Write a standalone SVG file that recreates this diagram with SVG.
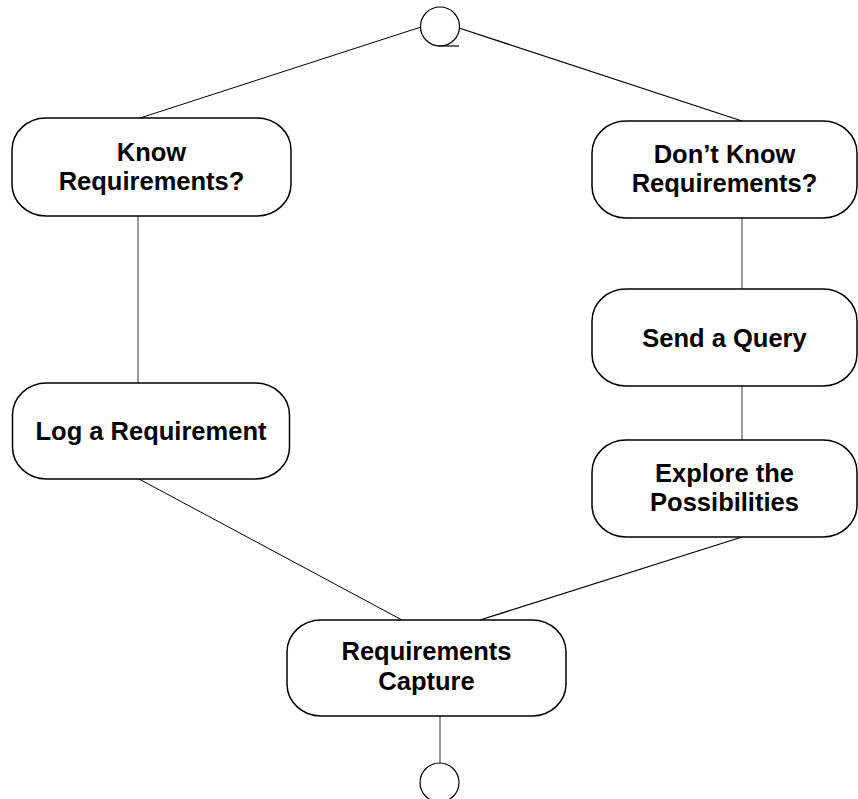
<svg xmlns="http://www.w3.org/2000/svg" width="858" height="799" viewBox="0 0 858 799">
<style>
.box{fill:#fff;stroke:#000;stroke-width:1.5}
.lbl{font-family:"Liberation Sans",Arial,sans-serif;font-weight:bold;font-size:25.5px;fill:#000;text-anchor:middle}
.con{stroke:#000;stroke-width:1;fill:none}
.conv{stroke:#333;stroke-width:1;fill:none}
.term{fill:#fff;stroke:#000;stroke-width:1.2}
</style>
<rect width="858" height="799" fill="#fff"/>
<g id="connectors">
<line class="con" x1="421" y1="27" x2="140" y2="118"/>
<line class="con" x1="459" y1="28" x2="742" y2="121" style="stroke-width:1.3"/>
<line class="conv" x1="138" y1="216" x2="138" y2="383"/>
<line class="conv" x1="742" y1="218" x2="742" y2="289"/>
<line class="conv" x1="742" y1="386" x2="742" y2="440"/>
<line class="con" x1="139" y1="479" x2="402" y2="620"/>
<line class="con" x1="742" y1="537" x2="480" y2="620" style="stroke-width:1.3"/>
<line class="conv" x1="440" y1="716" x2="440" y2="763"/>
</g>
<g id="start">
<circle class="term" cx="440" cy="26.5" r="19.5"/>
<line x1="438" y1="46" x2="459" y2="46" stroke="#000" stroke-width="1.2"/>
</g>
<g id="know">
<rect class="box" x="12" y="118" width="279" height="98" rx="34" ry="32"/>
<text class="lbl" x="151.5" y="161">Know</text>
<text class="lbl" x="151.5" y="190">Requirements?</text>
</g>
<g id="dontknow">
<rect class="box" x="592" y="121" width="265" height="97" rx="34" ry="32"/>
<text class="lbl" x="724.5" y="163">Don’t Know</text>
<text class="lbl" x="724.5" y="192">Requirements?</text>
</g>
<g id="query">
<rect class="box" x="592" y="289" width="265" height="97" rx="34" ry="32"/>
<text class="lbl" x="724.5" y="347">Send a Query</text>
</g>
<g id="explore">
<rect class="box" x="592" y="440" width="265" height="97" rx="34" ry="32"/>
<text class="lbl" x="724.5" y="482">Explore the</text>
<text class="lbl" x="724.5" y="511">Possibilities</text>
</g>
<g id="log">
<rect class="box" x="12.5" y="383" width="277" height="96" rx="34" ry="32"/>
<text class="lbl" x="151" y="440">Log a Requirement</text>
</g>
<g id="capture">
<rect class="box" x="287" y="620" width="279" height="96" rx="34" ry="32"/>
<text class="lbl" x="426.5" y="660">Requirements</text>
<text class="lbl" x="426.5" y="690">Capture</text>
</g>
<g id="end">
<circle class="term" cx="439.5" cy="782.5" r="19.5"/>
</g>
</svg>
